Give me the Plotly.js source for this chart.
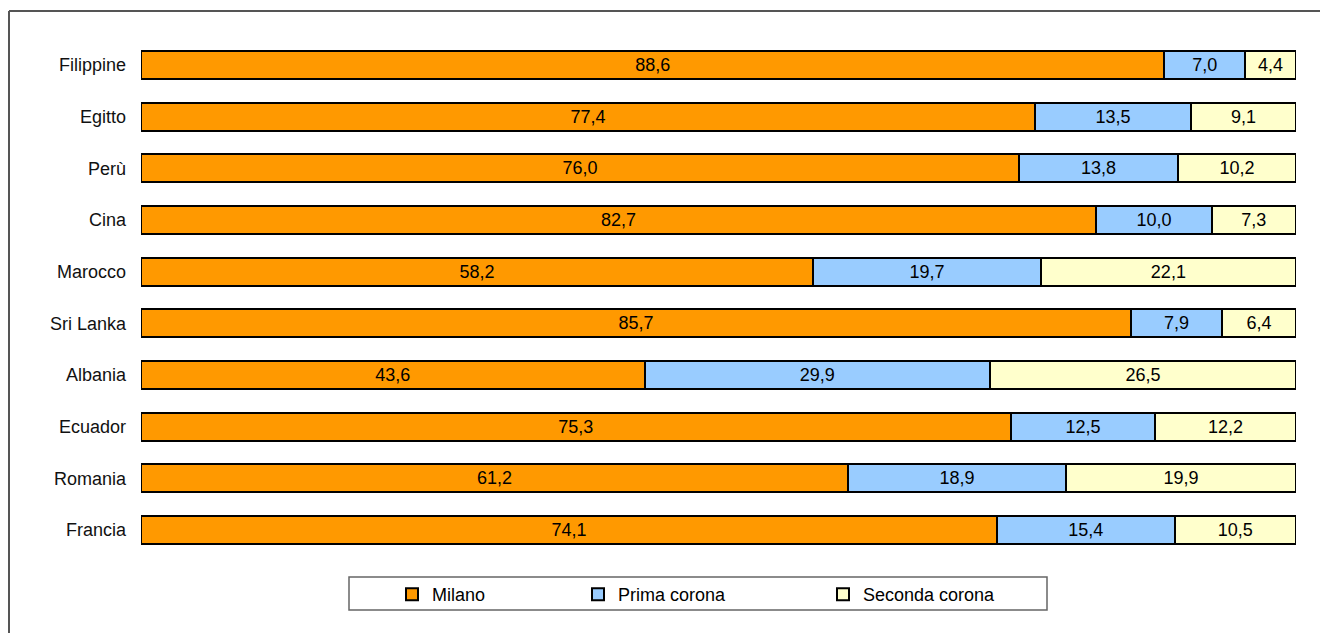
<!DOCTYPE html>
<html><head><meta charset="utf-8">
<script src="https://cdn.plot.ly/plotly-3.0.1.min.js"></script>
<style>html,body{margin:0;padding:0;background:#fff}#chart{width:1320px;height:633px}</style>
</head><body><div id="chart"></div>
<script>
const categories = ["Filippine","Egitto","Perù","Cina","Marocco","Sri Lanka","Albania","Ecuador","Romania","Francia"];
const milano = [88.6,77.4,76.0,82.7,58.2,85.7,43.6,75.3,61.2,74.1];
const primaCorona = [7.0,13.5,13.8,10.0,19.7,7.9,29.9,12.5,18.9,15.4];
const secondaCorona = [4.4,9.1,10.2,7.3,22.1,6.4,26.5,12.2,19.9,10.5];
const seriesNames = ["Milano","Prima corona","Seconda corona"];
const colors = ["#FF9900","#99CCFF","#FFFFCC"];

const W=1320,H=633,L=141,R=24,T=39,B=77;
const pw=W-L-R, ph=H-T-B;
const px=x=>(x-L)/pw, py=y=>(H-B-y)/ph;
const legendNames=['legend','legend2','legend3'];
const FONT='Liberation Sans, Arial, sans-serif';

const traces=[milano,primaCorona,secondaCorona].map((v,i)=>({
  type:'bar',orientation:'h',name:seriesNames[i],x:v,y:categories,legend:legendNames[i],
  marker:{color:colors[i],line:{color:'#000',width:2}},
  texttemplate:'%{x:.1f}',textposition:'inside',insidetextanchor:'middle',
  constraintext:'none',textfont:{size:18,color:'#000',family:FONT},
  hoverinfo:'skip'
}));

const legendSymbolX=[411,597,842];
const mkLegend=i=>({orientation:'h',x:px(legendSymbolX[i]-19),xanchor:'left',y:py(576),yanchor:'top',
  font:{size:18,color:'#000',family:FONT},bgcolor:'rgba(0,0,0,0)',borderwidth:0,itemclick:false});

const layout={
  width:W,height:H,margin:{l:L,r:R,t:T,b:B},
  barmode:'stack',bargap:0.46,separators:',.',
  paper_bgcolor:'#fff',plot_bgcolor:'#fff',
  font:{family:FONT,size:18,color:'#111'},
  xaxis:{range:[0,100],visible:false,fixedrange:true},
  yaxis:{categoryorder:'array',categoryarray:categories.slice().reverse(),showgrid:false,zeroline:false,
    showline:false,ticks:'',ticklabelstandoff:14,tickfont:{size:18,color:'#111',family:FONT}},
  showlegend:true,
  legend:mkLegend(0),legend2:mkLegend(1),legend3:mkLegend(2),
  shapes:[
    {type:'rect',xref:'paper',yref:'paper',x0:px(349),x1:px(1047),y0:py(577),y1:py(610),line:{color:'#666',width:1.5},fillcolor:'rgba(0,0,0,0)'},
    {type:'line',xref:'paper',yref:'paper',x0:px(9),x1:px(1330),y0:py(11),y1:py(11),line:{color:'#555',width:2}},
    {type:'line',xref:'paper',yref:'paper',x0:px(9),x1:px(9),y0:py(11),y1:py(640),line:{color:'#555',width:2}}
  ]
};
Plotly.newPlot('chart',traces,layout,{displayModeBar:false,staticPlot:true});
</script></body></html>
